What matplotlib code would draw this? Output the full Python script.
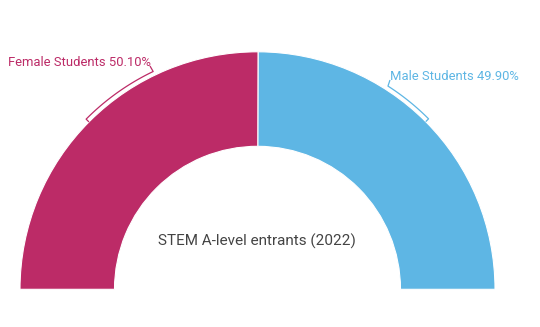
import numpy as np
import matplotlib
matplotlib.use("Agg")
import matplotlib.pyplot as plt

categories = ["Female Students", "Male Students"]
shares = [50.10, 49.90]
title = "STEM A-level entrants (2022)"
colors = ["#BC2B67", "#5EB6E4"]

W, H = 540, 327
fig = plt.figure(figsize=(W / 100, H / 100), dpi=100)
ax = fig.add_axes([0, 0, 1, 1])
plt.rcParams['font.family'] = ['Roboto', 'DejaVu Sans']

cx, cy = 257.5, H - 289.3
R, r_in = 237.5, 143.0
ax.pie([s / 200 for s in shares], normalize=False, startangle=180, counterclock=False,
       radius=R, center=(cx, cy), colors=colors,
       wedgeprops=dict(width=R - r_in, edgecolor="white", linewidth=0.8))
ax.set_xlim(0, W)
ax.set_ylim(0, H)
ax.set_aspect('equal')
ax.axis('off')

# leader brackets
def bracket(a1, a2, color, end):
    rr = 241.5
    t = np.radians(np.linspace(a1, a2, 60))
    xs = [cx + 237.5 * np.cos(t[0])] + list(cx + rr * np.cos(t)) + [end[0]]
    ys = [cy + 237.5 * np.sin(t[0])] + list(cy + rr * np.sin(t)) + [end[1]]
    ax.plot(xs, ys, color=color, lw=0.9, solid_capstyle='butt')

bracket(135.2, 115.6, colors[0], (150, H - 66))
bracket(44.9, 57.3, colors[1], (390, H - 80))

ax.text(8, H - 62, f"{categories[0]} {shares[0]:.2f}%", color=colors[0],
        fontsize=9.4, ha='left', va='center')
ax.text(390, H - 77, f"{categories[1]} {shares[1]:.2f}%", color=colors[1],
        fontsize=9.4, ha='left', va='center')
ax.text(257, H - 241, title, color="#444444", fontsize=11.0, ha='center', va='center')

fig.savefig("out.png", dpi=100)
